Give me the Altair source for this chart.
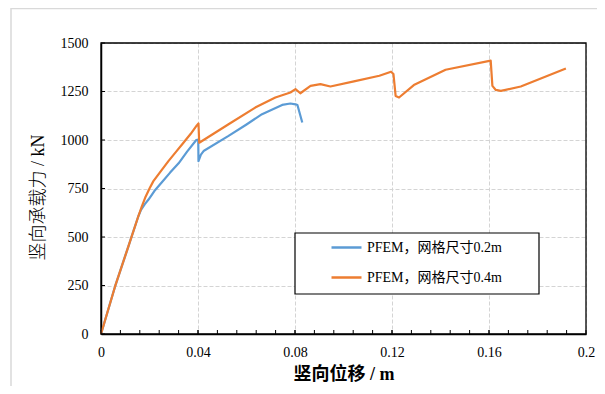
import altair as alt
import pandas as pd

# ---- data ----
series_names = ["PFEM，网格尺寸0.2m", "PFEM，网格尺寸0.4m"]
series_colors = ["#5B9BD5", "#ED7D31"]

x_02 = [0, 0.0058, 0.0113, 0.0154, 0.0165, 0.018, 0.0196, 0.022, 0.0251, 0.0285,
        0.032, 0.0355, 0.0393, 0.0401,
        0.0402, 0.0412, 0.0423, 0.0526, 0.06, 0.0664, 0.0747, 0.0781, 0.0802, 0.081, 0.083]
y_02 = [0, 245, 452, 607, 640, 668, 693, 737, 782, 832,
        880, 940, 1000, 1002,
        891, 925, 943, 1021, 1080, 1133, 1181, 1188, 1184, 1180, 1090]

x_04 = [0, 0.0058, 0.0113, 0.0154, 0.0168, 0.0182, 0.02, 0.0216, 0.025, 0.0278,
        0.031, 0.034, 0.037, 0.0395, 0.0402,
        0.0405, 0.0526, 0.0636, 0.0719, 0.0781, 0.0802, 0.0822, 0.0864, 0.0905,
        0.0946, 0.1043, 0.1148, 0.1196, 0.1206, 0.1215, 0.1229, 0.129, 0.1421,
        0.1607, 0.1614, 0.1628, 0.1649, 0.1731, 0.1917]
y_04 = [0, 245, 452, 607, 657, 702, 750, 788, 845, 891,
        940, 986, 1032, 1075, 1085,
        986, 1081, 1167, 1219, 1245, 1262, 1241, 1279, 1288,
        1276, 1302, 1331, 1352, 1340, 1227, 1219, 1283, 1362,
        1409, 1279, 1258, 1253, 1276, 1369]

x_major = [0, 0.04, 0.08, 0.12, 0.16, 0.2]
x_minor = [0.008, 0.016, 0.024, 0.032, 0.04, 0.048, 0.056, 0.064, 0.072, 0.08,
           0.088, 0.096, 0.104, 0.112, 0.12, 0.128, 0.136, 0.144, 0.152, 0.16,
           0.168, 0.176, 0.184, 0.192]
y_major = [0, 250, 500, 750, 1000, 1250, 1500]

x_title = "竖向位移 / m"
y_title = "竖向承载力 / kN"

FONT = "'Liberation Serif', 'Times New Roman', 'Noto Sans CJK SC', serif"
W, H = 485, 291

rows = []
for xv, yv in zip(x_02, y_02):
    rows.append({"x": xv, "y": yv, "s": series_names[0]})
for xv, yv in zip(x_04, y_04):
    rows.append({"x": xv, "y": yv, "s": series_names[1]})
df = pd.DataFrame(rows)
df["i"] = range(len(df))

xs = alt.Scale(domain=[0, 0.2], nice=False)
ys = alt.Scale(domain=[0, 1500], nice=False)

color = alt.Color(
    "s:N",
    scale=alt.Scale(domain=series_names, range=series_colors),
    legend=alt.Legend(
        title=None, orient="none", legendX=225, legendY=184,
        symbolType="stroke", symbolSize=900, symbolStrokeWidth=2.5,
        labelFont=FONT, labelFontSize=14, labelColor="#000",
        rowPadding=6, labelOffset=4, padding=4,
    ),
)

lines = alt.Chart(df).mark_line(strokeWidth=2.2, strokeJoin="round").encode(
    x=alt.X("x:Q", scale=xs, title=x_title,
            axis=alt.Axis(values=x_major, grid=True, labelFlush=False,
                          labelExpr="format(datum.value, '.2~f')")),
    y=alt.Y("y:Q", scale=ys, title=y_title,
            axis=alt.Axis(values=y_major, grid=True, format="d", titleY=154)),
    color=color,
    detail="s:N",
    order="i:Q",
)

legend_box = alt.Chart(pd.DataFrame({"k": [0]})).mark_rect(
    fill="white", stroke="black", strokeWidth=1.2
).encode(x=alt.value(194), x2=alt.value(438), y=alt.value(190), y2=alt.value(251))

plot_frame = alt.Chart(pd.DataFrame({"k": [0]})).mark_rect(
    fill=None, fillOpacity=0, stroke="black", strokeWidth=1.3
).encode(x=alt.value(0), x2=alt.value(W), y=alt.value(0), y2=alt.value(H))

xt = alt.Chart(pd.DataFrame({"x": x_minor + x_major})).mark_rule(
    color="black", strokeWidth=1
).encode(x=alt.X("x:Q", scale=xs), y=alt.value(H), y2=alt.value(H - 4))

yt = alt.Chart(pd.DataFrame({"y": y_major})).mark_rule(
    color="black", strokeWidth=1
).encode(y=alt.Y("y:Q", scale=ys), x=alt.value(0), x2=alt.value(4))

frame_left = alt.Chart(pd.DataFrame({"k": [0]})).mark_rule(
    color="#d9d9d9", strokeWidth=1.5
).encode(x=alt.value(-90), y=alt.value(-35), y2=alt.value(360))
frame_top = alt.Chart(pd.DataFrame({"k": [0]})).mark_rule(
    color="#d9d9d9", strokeWidth=1.5
).encode(x=alt.value(-90), x2=alt.value(500), y=alt.value(-34.5))

chart = alt.layer(frame_left, frame_top, legend_box, xt, yt, lines, plot_frame).properties(
    width=W, height=H,
    autosize=alt.AutoSizeParams(type="none"),
    padding={"left": 93, "top": 35, "right": 11, "bottom": 52},
).configure_view(
    stroke=None
).configure_axis(
    labelFont=FONT, labelFontSize=14, labelColor="#000",
    titleFont=FONT, titleFontSize=18, titleColor="#000",
    domainColor="black", domainWidth=1.5,
    tickSize=0, gridColor="#d4d4d4", gridDash=[4, 2], gridWidth=1,
).configure_axisX(
    labelPadding=11, titlePadding=6, titleFontWeight="bold",
).configure_axisY(
    labelPadding=13, titlePadding=13, titleFontWeight=300,
)

chart.save("out.html", embed_options={"renderer": "svg", "actions": False})
